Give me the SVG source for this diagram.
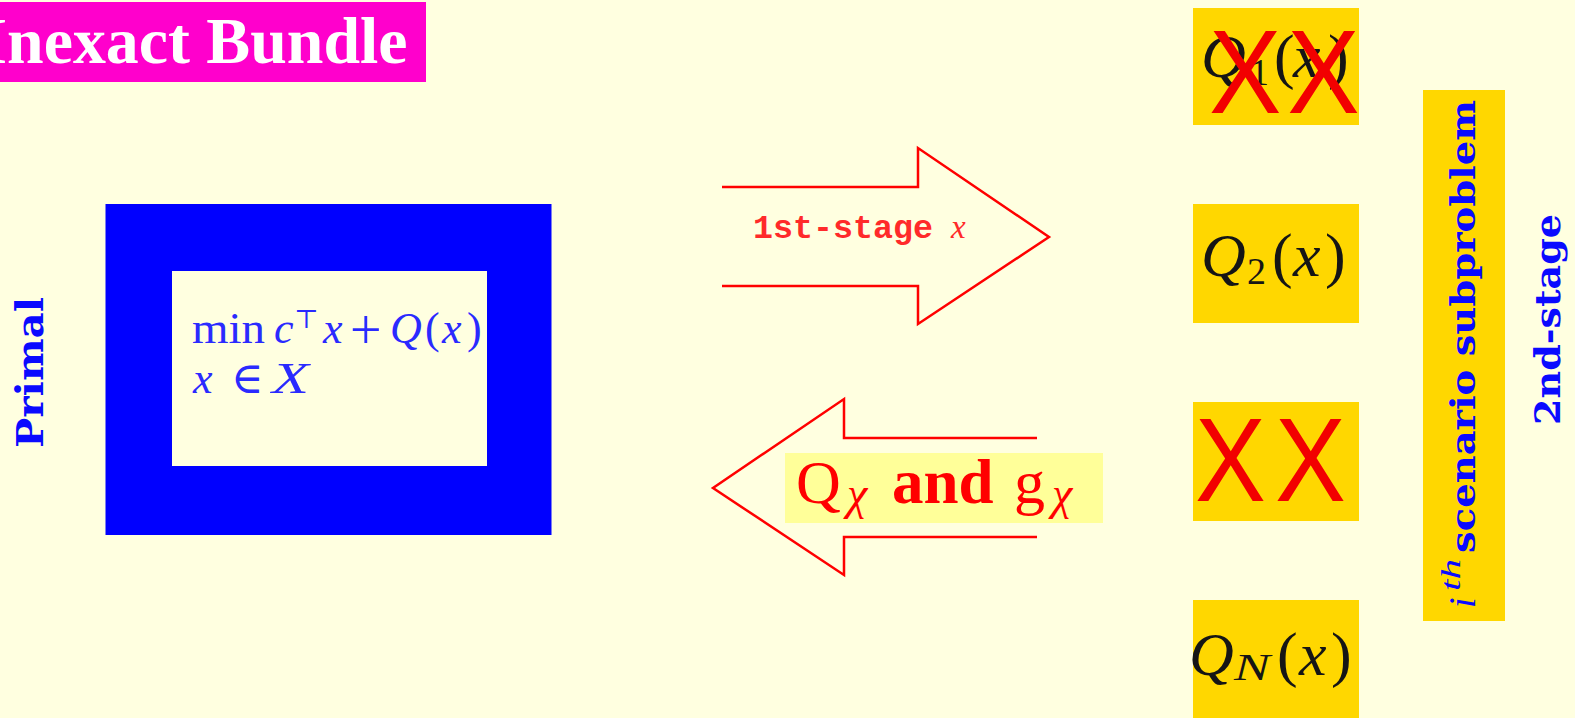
<svg xmlns="http://www.w3.org/2000/svg" width="1575" height="718" viewBox="0 0 1575 718">
<style>
.math{font-family:"Liberation Serif","DejaVu Serif",serif}
.it{font-style:italic}
.mq{fill:#151515;font-size:62px}
.sub{font-size:38px}
.bx{font-family:"Liberation Sans",Arial,sans-serif;font-size:118px;fill:#F20000}
.vlab{font-family:"DejaVu Serif","Liberation Serif",serif;font-weight:bold;fill:#0a0aff}
.gold{fill:#FFD700}
.arrow{fill:none;stroke:#FF0000;stroke-width:2.5;stroke-linejoin:miter}
.red{fill:#FF0000}
</style>
<rect width="1575" height="718" fill="#FFFFE0"/>

<g id="title">
<rect x="0" y="2" width="426" height="80" fill="#FF00CC"/>
<text x="-18.5" y="63" font-family="Liberation Serif, serif" font-weight="bold" font-size="65" fill="#FFFFFF" textLength="426" lengthAdjust="spacingAndGlyphs">Inexact Bundle</text>
</g>

<g id="primal-label">
<text class="vlab" font-size="38" transform="translate(43,448) rotate(-90)" textLength="151" lengthAdjust="spacingAndGlyphs">Primal</text>
</g>

<g id="primal">
<rect x="105.5" y="204" width="446" height="331" fill="#0000FF"/>
<rect x="172" y="271" width="315" height="195" fill="#FFFFE0"/>
<g class="math" fill="#2a2aff" font-size="44">
<text x="192" y="343" textLength="73" lengthAdjust="spacingAndGlyphs">min</text>
<text class="it" x="274" y="343">c</text>
<text x="294" y="328" font-size="26">⊤</text>
<text class="it" x="323" y="343">x</text>
<text x="350" y="349" font-size="56">+</text>
<text class="it" x="390" y="343">Q</text>
<text x="425" y="343">(</text>
<text class="it" x="442" y="343">x</text>
<text x="467" y="343">)</text>
<text class="it" x="193" y="393">x</text>
<text x="231" y="393">∈</text>
<text class="it" x="272" y="393" textLength="37" lengthAdjust="spacingAndGlyphs">X</text>
</g>
</g>

<g id="connectors">
<g id="arrow-first-stage">
<path class="arrow" d="M722,187 H918 V148 L1049,237 L918,324 V286 H722"/>
<text x="753" y="238" font-family="Liberation Mono, monospace" font-weight="bold" font-size="33" fill="#FF2A2A" textLength="180" lengthAdjust="spacingAndGlyphs">1st-stage</text>
<text class="math it" x="951" y="238" font-size="33" fill="#FF2A2A">x</text>
</g>
<g id="arrow-feedback">
<path class="arrow" d="M1037,438 H844 V399 L713,488 L844,575 V537 H1037"/>
<rect x="785" y="453" width="318" height="70" fill="#FFFF99"/>
<text class="math red" x="796" y="503" font-size="62">Q</text>
<text class="math it red" x="847" y="509" font-size="46">χ</text>
<text class="math red" x="892" y="503" font-size="63" font-weight="bold">and</text>
<text class="math red" x="1014" y="503" font-size="62">g</text>
<text class="math it red" x="1052" y="509" font-size="46">χ</text>
</g>
</g>

<g id="Q1">
<rect class="gold" x="1193" y="8" width="166" height="117"/>
<g class="math mq">
<text class="it" x="1201" y="77">Q</text>
<text class="sub" x="1250" y="85">1</text>
<text x="1274" y="77">(</text>
<text class="it" x="1293" y="77">x</text>
<text x="1328" y="77">)</text>
</g>
<text class="bx" transform="translate(1209,113) scale(0.92,1)" x="0 85">XX</text>
</g>

<g id="Q2">
<rect class="gold" x="1193" y="204" width="166" height="119"/>
<g class="math mq">
<text class="it" x="1201" y="276">Q</text>
<text class="sub" x="1247" y="284">2</text>
<text x="1272" y="276">(</text>
<text class="it" x="1293" y="276">x</text>
<text x="1325" y="276">)</text>
</g>
</g>

<g id="Qi">
<rect class="gold" x="1193" y="402" width="166" height="119"/>
<text class="bx" transform="translate(1195,501) scale(0.9,1)" x="0 89">XX</text>
</g>

<g id="QN">
<rect class="gold" x="1193" y="600" width="166" height="118"/>
<g class="math mq">
<text class="it" x="1189" y="675">Q</text>
<text class="it sub" x="1234" y="680" textLength="36" lengthAdjust="spacingAndGlyphs">N</text>
<text x="1277" y="675">(</text>
<text class="it" x="1299" y="675">x</text>
<text x="1331" y="675">)</text>
</g>
</g>

<g id="scenario-label">
<rect class="gold" x="1423" y="90" width="82" height="531"/>
<g transform="translate(1475,608) rotate(-90)">
<text class="math it" x="0" y="0" font-size="38" fill="#0a0aff">i</text>
<text class="math it" x="17" y="-15" font-size="27" fill="#0a0aff" textLength="32" lengthAdjust="spacingAndGlyphs">th</text>
<text class="vlab" x="55" y="0" font-size="34" textLength="453" lengthAdjust="spacingAndGlyphs">scenario subproblem</text>
</g>
</g>

<g id="stage-label">
<text class="vlab" font-size="36" transform="translate(1560,425) rotate(-90)" textLength="211" lengthAdjust="spacingAndGlyphs">2nd-stage</text>
</g>
</svg>
